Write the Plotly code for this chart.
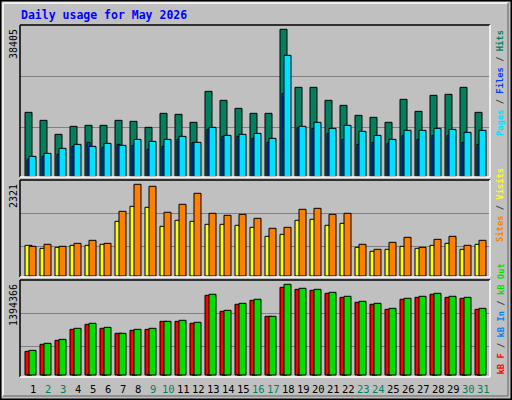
import plotly.graph_objects as go

days = list(range(1, 32))
hits = [16770,14684,11035,13120,13381,13381,14684,14424,12860,16509,16248,14163,22244,19898,17812,16509,16509,38405,23286,23286,19898,18594,15988,15466,14163,20158,17030,21201,21462,23286,16770]
files_top = [469,460,445,433,439,430,436,418,424,418,409,427,382,406,403,400,415,166,379,367,385,376,394,406,418,391,391,385,388,397,391]
pages_top = [478,469,463,439,427,442,433,436,448,439,418,427,388,409,409,415,427,280,382,385,400,418,433,427,430,406,418,406,406,427,433]
files = [round((530 - t) * 86.89) for t in files_top]
pages = [round((530 - t) * 86.89) for t in pages_top]
visits = [776,700,726,776,776,802,1384,1764,1739,1258,1410,1384,1308,1308,1283,1232,1004,1055,1410,1435,1283,1334,726,625,675,751,700,776,827,675,802]
sites = [751,802,751,827,903,827,1637,2321,2270,1612,1815,2093,1587,1536,1561,1460,1207,1232,1688,1713,1561,1587,802,675,852,979,726,928,1004,776,903]
kbf = [364000,472000,533000,702000,779000,718000,641000,687000,702000,825000,825000,795000,1225000,979000,1087000,1148000,902000,1348000,1317000,1302000,1256000,1194000,1118000,1087000,1010000,1164000,1194000,1241000,1194000,1179000,1010000]
kbout = [379000,487000,548000,718000,795000,733000,641000,702000,718000,825000,841000,810000,1241000,994000,1102000,1164000,902000,1394366,1333000,1317000,1271000,1210000,1133000,1102000,1025000,1179000,1210000,1256000,1210000,1194000,1025000]
kbin = [3000]*17 + [9000] + [3000]*13
weekend = {2,3,9,10,16,17,23,24,30,31}

W, H = 512, 400
def py(p): return 1 - p / H
def px(p): return p / W

fig = go.Figure()
panels = [
    ("y", 25, 177, 176.7, 38405, 29.3, [76, 127]),
    ("y2", 180, 277, 276, 2321, 184.3, [213.3, 246]),
    ("y3", 280, 377, 375, 1394366, 284.3, [313.3, 346.3]),
]
layout = {}
pshapes = []
for i, (yname, top, bot, bb, mx, mt, grids) in enumerate(panels):
    scale = mx / (bb - mt)
    lo = -(bot - bb) * scale
    hi = (bb - top) * scale
    key = "yaxis" if i == 0 else f"yaxis{i+1}"
    layout[key] = dict(domain=[py(bot), py(top)], range=[lo, hi], tickvals=[(bb - g) * scale for g in grids],
                       showticklabels=False, gridcolor="#808080", gridwidth=1, zeroline=False, ticks="",
                       anchor="x" if i == 0 else f"x{i+1}")
    xkey = "xaxis" if i == 0 else f"xaxis{i+1}"
    layout[xkey] = dict(domain=[px(20), px(490)], range=[0.667, 32.0], showticklabels=False, showgrid=False,
                        zeroline=False, ticks="", anchor=yname)
    pshapes += [
        dict(type="line", xref="paper", yref="paper", x0=px(20), x1=px(490), y0=py(top), y1=py(top), line=dict(color="black", width=1.5)),
        dict(type="line", xref="paper", yref="paper", x0=px(20), x1=px(20), y0=py(top), y1=py(bot), line=dict(color="black", width=1.5)),
        dict(type="line", xref="paper", yref="paper", x0=px(20), x1=px(490), y0=py(bot), y1=py(bot), line=dict(color="white", width=1.5)),
        dict(type="line", xref="paper", yref="paper", x0=px(490), x1=px(490), y0=py(top), y1=py(bot), line=dict(color="white", width=1.5)),
    ]

def bar(vals, color, off, wid, axn):
    xa = "x" if axn == 1 else f"x{axn}"
    ya = "y" if axn == 1 else f"y{axn}"
    return go.Bar(x=days, y=vals, offset=off, width=wid, marker=dict(color=color, line=dict(color="black", width=1)),
                  xaxis=xa, yaxis=ya, showlegend=False, hoverinfo="skip")

fig.add_trace(bar(hits, "#00805F", 0, 7/15, 1))
fig.add_trace(bar(pages, "#0040FF", 2/15, 3/15, 1))
fig.add_trace(bar(files, "#00E0FF", 4/15, 7/15, 1))
fig.add_trace(bar(visits, "#FFFF00", 0, 7/15, 2))
fig.add_trace(bar(sites, "#FF8000", 4/15, 7/15, 2))
fig.add_trace(bar(kbf, "#FF0000", 0, 7/15, 3))
fig.add_trace(bar(kbin, "#0080FF", 2/15, 3/15, 3))
fig.add_trace(bar(kbout, "#00E000", 4/15, 7/15, 3))

shapes = [
    dict(type="rect", xref="paper", yref="paper", x0=0.001, x1=0.999, y0=0.001, y1=0.999, line=dict(color="black", width=2), layer="below"),
    dict(type="line", xref="paper", yref="paper", x0=px(3), x1=px(508), y0=py(3), y1=py(3), line=dict(color="white", width=1.5)),
    dict(type="line", xref="paper", yref="paper", x0=px(3), x1=px(3), y0=py(3), y1=py(396), line=dict(color="white", width=1.5)),
    dict(type="line", xref="paper", yref="paper", x0=px(3), x1=px(508), y0=py(396), y1=py(396), line=dict(color="#808080", width=1.5)),
    dict(type="line", xref="paper", yref="paper", x0=px(508), x1=px(508), y0=py(3), y1=py(396), line=dict(color="#808080", width=1.5)),
] + pshapes

mono = "DejaVu Sans Mono"
ann = [dict(text="<b>Daily usage for May 2026</b>", x=px(19), y=py(15), xref="paper", yref="paper", xanchor="left",
            yanchor="middle", showarrow=False, font=dict(family=mono, size=11.5, color="#0000FF"))]
for txt, top in [("38405", 27), ("2321", 182), ("1394366", 282)]:
    ann.append(dict(text=txt, x=px(13), y=py(top), xref="paper", yref="paper", xanchor="center", yanchor="top",
                    textangle=-90, showarrow=False, font=dict(family=mono, size=10, color="black")))
def leg(parts, bottom):
    t = "".join(f'<span style="color:{c}">{s}</span>' for s, c in parts)
    return dict(text="<b>" + t + "</b>", x=px(500), y=py(bottom), xref="paper", yref="paper", xanchor="center", yanchor="bottom",
                textangle=-90, showarrow=False, font=dict(family=mono, size=8.8))
ann.append(leg([("Pages", "#00E0FF"), (" / ", "#404040"), ("Files", "#0040FF"), (" / ", "#404040"), ("Hits", "#00805F")], 138))
ann.append(leg([("Sites", "#FF8000"), (" / ", "#404040"), ("Visits", "#FFFF00")], 244))
ann.append(leg([("kB F", "#FF0000"), (" / ", "#404040"), ("kB In", "#0080FF"), (" / ", "#404040"), ("kB Out", "#00E000")], 377))
for d in days:
    ann.append(dict(text=str(d), x=d + 0.55, y=py(389), xref="x3", yref="paper", xanchor="center", yanchor="middle",
                    showarrow=False, font=dict(family=mono, size=10.5, color="#00805F" if d in weekend else "black")))

fig.update_layout(width=W, height=H, margin=dict(l=0, r=0, t=0, b=0), paper_bgcolor="#C0C0C0",
                  plot_bgcolor="#C0C0C0", barmode="overlay", shapes=shapes, annotations=ann, **layout)
fig.write_html("out.html", config={"displayModeBar": False})
with open("out.html", encoding="utf-8") as f:
    html = f.read()
html = html.replace("<head>", "<head><style>html,body{margin:0;padding:0;overflow:hidden;}</style>", 1)
with open("out.html", "w", encoding="utf-8") as f:
    f.write(html)
